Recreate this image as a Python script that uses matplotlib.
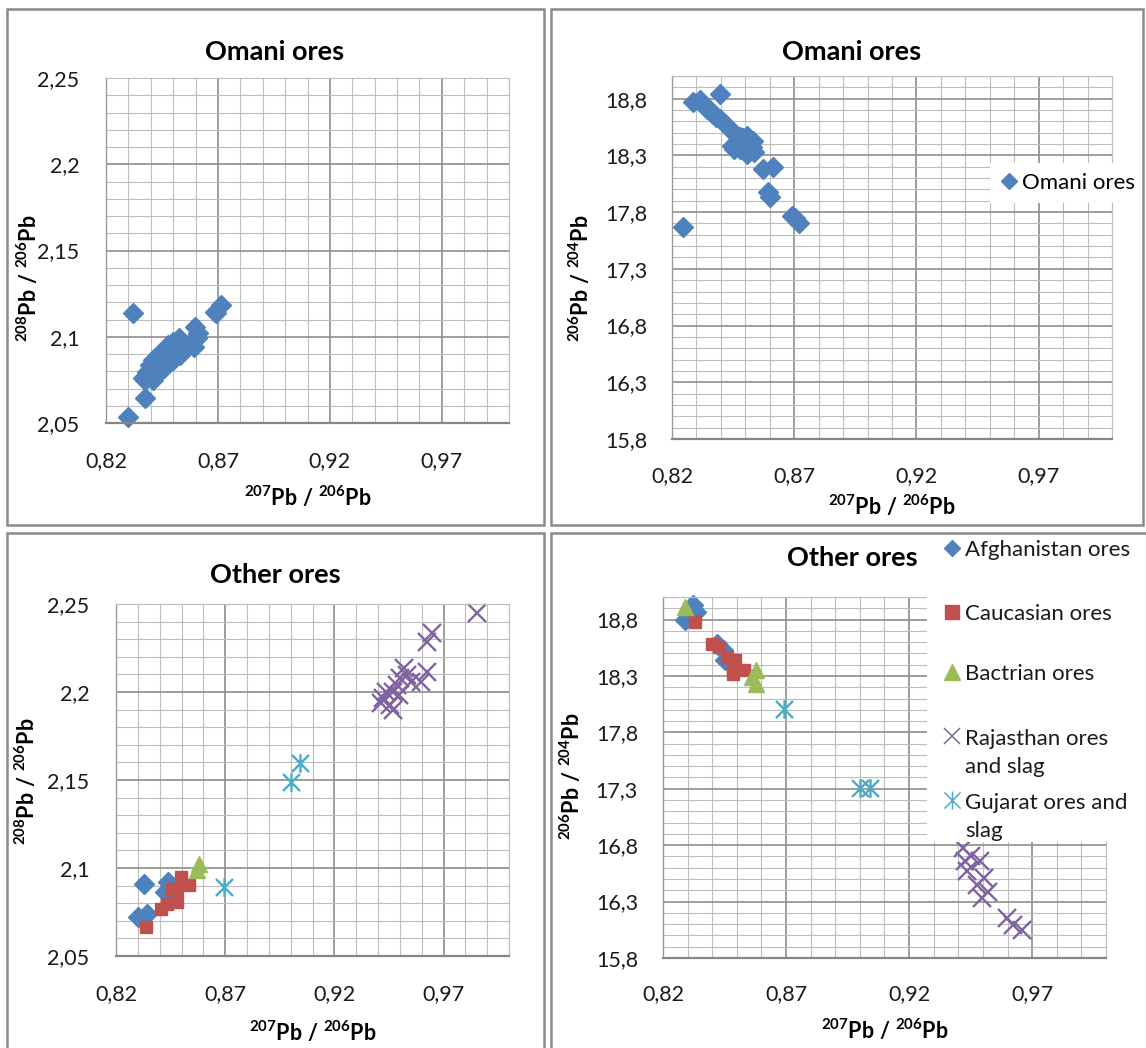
import matplotlib
matplotlib.use("Agg")
import matplotlib.pyplot as plt
from matplotlib.lines import Line2D
from matplotlib.patches import Rectangle
from matplotlib.path import Path
from matplotlib.ticker import MultipleLocator

plt.rcParams['font.family'] = ['Lato', 'DejaVu Sans']
plt.rcParams['mathtext.fontset'] = 'custom'
plt.rcParams['mathtext.rm'] = 'Lato'
plt.rcParams['mathtext.bf'] = 'Lato:bold'
plt.rcParams['mathtext.it'] = 'Lato:italic'

# ---------------- data ----------------
x_ticks = [0.82, 0.87, 0.92, 0.97]
x_tick_labels = ['0,82', '0,87', '0,92', '0,97']
y208_ticks = [2.05, 2.10, 2.15, 2.20, 2.25]
y208_tick_labels = ['2,05', '2,1', '2,15', '2,2', '2,25']
y206_ticks = [15.8, 16.3, 16.8, 17.3, 17.8, 18.3, 18.8]
y206_tick_labels = ['15,8', '16,3', '16,8', '17,3', '17,8', '18,3', '18,8']

# Omani ores: 207Pb/206Pb vs 208Pb/206Pb
omani_a_x = [0.8300, 0.8372, 0.8322, 0.8367, 0.8382, 0.8397, 0.8412, 0.8434,
             0.8457, 0.8479, 0.8501, 0.8524, 0.8412, 0.8434, 0.8457, 0.8479,
             0.8501, 0.8531, 0.8554, 0.8576, 0.8591, 0.8599, 0.8613, 0.8606,
             0.8397, 0.8375, 0.8471, 0.8688, 0.8715, 0.8691, 0.8440, 0.8490,
             0.8510, 0.8420, 0.8545]
omani_a_y = [2.0537, 2.0643, 2.1136, 2.0759, 2.0797, 2.0836, 2.0865, 2.0894,
             2.0923, 2.0952, 2.0971, 2.0991, 2.0749, 2.0788, 2.0817, 2.0846,
             2.0865, 2.0894, 2.0933, 2.0962, 2.0942, 2.1058, 2.1020, 2.0991,
             2.0768, 2.0749, 2.0884, 2.1145, 2.1186, 2.1138, 2.0840, 2.0905,
             2.0920, 2.0800, 2.0960]

# Omani ores: 207Pb/206Pb vs 206Pb/204Pb
omani_b_x = [0.8396, 0.8287, 0.8315, 0.8342, 0.8369, 0.8396, 0.8417, 0.8437,
             0.8458, 0.8478, 0.8506, 0.8533, 0.8444, 0.8478, 0.8506, 0.8526,
             0.8465, 0.8574, 0.8615, 0.8594, 0.8601, 0.8690, 0.8720, 0.8704,
             0.8245, 0.8470, 0.8495, 0.8520, 0.8490, 0.8455, 0.8535, 0.8330,
             0.8355, 0.8380]
omani_b_y = [18.844, 18.771, 18.785, 18.711, 18.667, 18.623, 18.579, 18.535,
             18.490, 18.461, 18.475, 18.431, 18.387, 18.357, 18.313, 18.373,
             18.431, 18.180, 18.196, 17.974, 17.930, 17.767, 17.700, 17.744,
             17.671, 18.400, 18.360, 18.400, 18.450, 18.360, 18.330, 18.740,
             18.700, 18.640]

# Other ores: 207Pb/206Pb vs 208Pb/206Pb
afg_a_x = [0.8328, 0.8303, 0.8344, 0.8424, 0.8440]
afg_a_y = [2.0908, 2.0722, 2.0741, 2.0864, 2.0921]
cau_a_x = [0.8336, 0.8408, 0.8432, 0.8456, 0.8480, 0.8496, 0.8480, 0.8536]
cau_a_y = [2.0665, 2.0769, 2.0798, 2.0883, 2.0807, 2.0949, 2.0883, 2.0902]
bac_a_x = [0.8570, 0.8580]
bac_a_y = [2.0990, 2.1020]
raj_a_x = [0.9853, 0.9647, 0.9623, 0.9623, 0.9599, 0.9519, 0.9534, 0.9502,
           0.9486, 0.9470, 0.9437, 0.9421, 0.9453, 0.9470, 0.9413, 0.9494, 0.9550]
raj_a_y = [2.2451, 2.2333, 2.2286, 2.2115, 2.2058, 2.2134, 2.2096, 2.2077,
           2.2039, 2.2001, 2.2001, 2.1964, 2.1926, 2.1897, 2.1935, 2.1982, 2.2058]
guj_a_x = [0.8694, 0.9003, 0.9043]
guj_a_y = [2.0893, 2.1490, 2.1594]

# Other ores: 207Pb/206Pb vs 206Pb/204Pb
afg_b_x = [0.8320, 0.8336, 0.8289, 0.8421, 0.8444, 0.8452]
afg_b_y = [18.928, 18.869, 18.795, 18.586, 18.527, 18.438]
cau_b_x = [0.8328, 0.8398, 0.8429, 0.8460, 0.8491, 0.8483, 0.8483, 0.8529]
cau_b_y = [18.780, 18.586, 18.557, 18.468, 18.438, 18.349, 18.320, 18.349]
bac_b_x = [0.8289, 0.8576, 0.8576, 0.8560]
bac_b_y = [18.913, 18.349, 18.230, 18.290]
raj_b_x = [0.9420, 0.9428, 0.9490, 0.9436, 0.9505, 0.9474, 0.9520, 0.9498,
           0.9598, 0.9621, 0.9660, 0.9450]
raj_b_y = [16.774, 16.656, 16.656, 16.567, 16.507, 16.448, 16.389, 16.329,
           16.151, 16.091, 16.047, 16.700]
guj_b_x = [0.8692, 0.9002, 0.9041]
guj_b_y = [18.007, 17.309, 17.309]

series_names = ['Afghanistan ores', 'Caucasian ores', 'Bactrian ores',
                'Rajasthan ores\nand slag', 'Gujarat ores and\nslag']

# ---------------- styles ----------------
BLUE = '#4F81BD'
RED = '#C0504D'
GREEN = '#9BBB59'
PURPLE = '#8064A2'
AQUA = '#4BACC6'

ASTERISK = Path([(-0.5, -0.5), (0.5, 0.5), (-0.5, 0.5), (0.5, -0.5), (0, -0.55), (0, 0.55)],
                [Path.MOVETO, Path.LINETO, Path.MOVETO, Path.LINETO, Path.MOVETO, Path.LINETO])

STYLES = [
    dict(marker='D', ms=10.5, color=BLUE, mec=BLUE),
    dict(marker='s', ms=9.2, color=RED, mec=RED),
    dict(marker='^', ms=12.0, color=GREEN, mec=GREEN),
    dict(marker='x', ms=13.5, color=PURPLE, mec=PURPLE, mew=1.7),
    dict(marker=ASTERISK, ms=13.5, color=AQUA, mfc='none', mec=AQUA, mew=1.7),
]

W, H = 1146, 1048
fig = plt.figure(figsize=(W / 100, H / 100), dpi=100)


def make_ax(left, top, right, bottom):
    return fig.add_axes([left / W, 1 - bottom / H, (right - left) / W, (bottom - top) / H])


XLAB = r'$\mathbf{{}^{207}Pb\ /\ {}^{206}Pb}$'
YLAB_208 = r'$\mathbf{{}^{208}Pb\ /\ {}^{206}Pb}$'
YLAB_206 = r'$\mathbf{{}^{206}Pb\ /\ {}^{204}Pb}$'


def style_ax(ax, yticks, ylabels, ylim, yminor, title, ylab, tpos, xlpos, ylpos, ypad, xpad):
    ax.set_xlim(0.82, 1.0)
    ax.set_ylim(*ylim)
    ax.set_xticks(x_ticks, labels=x_tick_labels)
    ax.set_yticks(yticks, labels=ylabels)
    ax.xaxis.set_minor_locator(MultipleLocator(0.01))
    ax.yaxis.set_minor_locator(MultipleLocator(yminor))
    ax.grid(which='minor', color='#bdbdbd', lw=0.8)
    ax.grid(which='major', color='#8e8e8e', lw=1.2)
    ax.set_axisbelow(True)
    ax.tick_params(which='both', length=0)
    ax.tick_params(axis='y', pad=ypad, labelsize=15.5, labelcolor='#1a1a1a')
    ax.tick_params(axis='x', pad=xpad, labelsize=15.5, labelcolor='#1a1a1a')
    for s in ['top', 'right']:
        ax.spines[s].set_color('#bdbdbd')
        ax.spines[s].set_linewidth(0.8)
    ax.spines['left'].set_color('#9a9a9a')
    ax.spines['left'].set_linewidth(1.0)
    ax.spines['bottom'].set_color('#868686')
    ax.spines['bottom'].set_linewidth(1.6)
    ax.set_title(title, fontsize=19.5, fontweight='bold', x=tpos[0], y=tpos[1], va='center', pad=0)
    ax.set_xlabel(XLAB, fontsize=15.5)
    ax.xaxis.set_label_coords(*xlpos)
    ax.xaxis.label.set_va('center')
    ax.set_ylabel(ylab, fontsize=15.5)
    ax.yaxis.set_label_coords(*ylpos)
    ax.yaxis.label.set_va('center')


def draw(ax, x, y, st, label=None):
    ax.plot(x, y, ls='none', clip_on=False, label=label, **st)


# Top-left
ax1 = make_ax(106, 78, 509, 423)
style_ax(ax1, y208_ticks, y208_tick_labels, (2.05, 2.25), 0.01, 'Omani ores', YLAB_208,
         (0.419, 1.075), (0.5, -0.2145), (-0.1935, 0.42), 19, 20.5)
draw(ax1, omani_a_x, omani_a_y, STYLES[0])

# Top-right
ax2 = make_ax(672, 76, 1112, 439)
style_ax(ax2, y206_ticks, y206_tick_labels, (15.8, 19.0), 0.1, 'Omani ores', YLAB_206,
         (0.407, 1.066), (0.5, -0.1846), (-0.209, 0.4435), 17.5, 19.5)
draw(ax2, omani_b_x, omani_b_y, STYLES[0], label='Omani ores')
ax2.legend(loc='center left', bbox_to_anchor=(990 / W, 1 - 183 / H), bbox_transform=fig.transFigure,
           frameon=True, fancybox=False, edgecolor='none', facecolor='white', framealpha=1,
           borderpad=0.45, handlelength=0.8, handletextpad=0.2, markerscale=0.75,
           fontsize=16, borderaxespad=0)

# Bottom-left
ax3 = make_ax(116, 604, 509, 956)
style_ax(ax3, y208_ticks, y208_tick_labels, (2.05, 2.25), 0.01, 'Other ores', YLAB_208,
         (0.4046, 1.0824), (0.5, -0.216), (-0.229, 0.497), 19, 20.5)
for (xs, ys), st in zip([(afg_a_x, afg_a_y), (cau_a_x, cau_a_y), (bac_a_x, bac_a_y),
                         (raj_a_x, raj_a_y), (guj_a_x, guj_a_y)], STYLES):
    draw(ax3, xs, ys, st)

# Bottom-right
ax4 = make_ax(663, 597, 1106, 958)
style_ax(ax4, y206_ticks, y206_tick_labels, (15.8, 19.0), 0.1, 'Other ores', YLAB_206,
         (0.4266, 1.108), (0.5, -0.1994), (-0.2077, 0.504), 18, 19)
for (xs, ys), st, nm in zip([(afg_b_x, afg_b_y), (cau_b_x, cau_b_y), (bac_b_x, bac_b_y),
                             (raj_b_x, raj_b_y), (guj_b_x, guj_b_y)], STYLES, series_names):
    draw(ax4, xs, ys, st, label=nm)

# Bottom-right legend (Excel-style, entries on equal slots), drawn on top of the plot area
ax4.add_artist(Rectangle((927 / W, 1 - 842 / H), (1146 - 927) / W, (842 - 536) / H,
                         transform=fig.transFigure, facecolor='white', edgecolor='none',
                         zorder=4, clip_on=False))
leg_marker_y = [548, 612, 672, 736, 800]
leg_text_y = [556, 620, 680, 773, 837]   # baseline of the last line of each label
leg_scale = [0.8, 1.1, 0.95, 0.85, 0.95]
for nm, st, my, ty, sc in zip(series_names, STYLES, leg_marker_y, leg_text_y, leg_scale):
    st2 = dict(st)
    st2['ms'] = st['ms'] * sc
    if 'mew' in st2:
        st2['mew'] = 1.1
    ax4.add_artist(Line2D([952 / W], [1 - my / H], transform=fig.transFigure, linestyle='none',
                          zorder=5, clip_on=False, **st2))
    ax4.text(965 / W, 1 - ty / H, nm, transform=fig.transFigure, fontsize=16, va='baseline',
             ha='left', linespacing=1.5, zorder=6, color='#1a1a1a', clip_on=False)

# Panel frames
for (l, t, r, b) in [(7, 9, 544, 525), (551, 9, 1143, 525), (7, 533, 544, 1052), (551, 533, 1152, 1052)]:
    fig.add_artist(Rectangle((l / W, 1 - b / H), (r - l) / W, (b - t) / H, transform=fig.transFigure,
                             fill=False, edgecolor='#8a8a8a', lw=1.8, zorder=5))

fig.savefig('out.png', dpi=100)
